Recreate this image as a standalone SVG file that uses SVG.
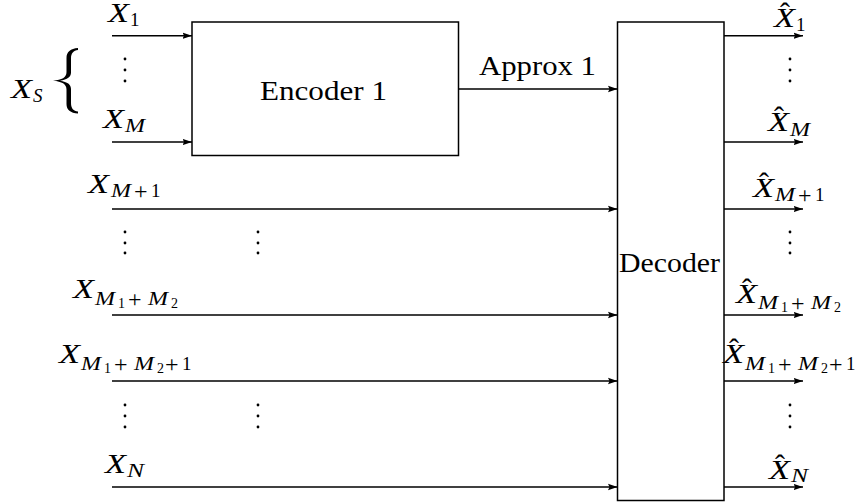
<svg xmlns="http://www.w3.org/2000/svg" width="856" height="503" viewBox="0 0 856 503">
  <style>
    .box { fill: #ffffff; stroke: #000000; stroke-width: 1.5; }
    .wire { fill: none; stroke: #000000; stroke-width: 1.5; marker-end: url(#arrow); }
    .rm { font-family: "Liberation Serif", "Times New Roman", serif; font-size: 27px; fill: #000000; }
    .mi { font-family: "Liberation Serif", "Times New Roman", serif; font-size: 27px; font-style: italic; fill: #000000; }
    .sub { font-size: 19px; }
    .subsub { font-size: 14px; font-style: normal; }
    .up { font-style: normal; }
    .op { font-size: 24px; font-style: normal; }
    .hat { font-size: 30px; font-style: normal; }
    .dot { fill: #000000; }
  </style>
  <defs>
    <marker id="arrow" markerUnits="userSpaceOnUse" markerWidth="10" markerHeight="8" viewBox="0 0 10 8" refX="9.5" refY="4" orient="auto">
      <path d="M0,0.8 L9.5,4 L0,7.2 L1.5,4 z" fill="#000000"/>
    </marker>
  </defs>

  <!-- blocks -->
  <g id="encoder1">
    <rect class="box" x="192" y="22" width="266.5" height="133.5"/>
    <text class="rm" x="260" y="100" textLength="127" lengthAdjust="spacingAndGlyphs">Encoder 1</text>
  </g>
  <g id="decoder">
    <rect class="box" x="617.5" y="22" width="106.5" height="478.5"/>
    <text class="rm" x="619" y="272" textLength="101" lengthAdjust="spacingAndGlyphs">Decoder</text>
  </g>

  <!-- signal lines -->
  <g id="connectors">
    <line class="wire" x1="112" y1="35.7" x2="192" y2="35.7"/>
    <line class="wire" x1="112" y1="142" x2="192" y2="142"/>
    <line class="wire" x1="458.5" y1="89" x2="617.5" y2="89"/>
    <line class="wire" x1="112" y1="209" x2="617.5" y2="209"/>
    <line class="wire" x1="112" y1="315" x2="617.5" y2="315"/>
    <line class="wire" x1="112" y1="381" x2="617.5" y2="381"/>
    <line class="wire" x1="112" y1="487" x2="617.5" y2="487"/>
    <line class="wire" x1="724" y1="35.7" x2="803" y2="35.7"/>
    <line class="wire" x1="724" y1="142" x2="803" y2="142"/>
    <line class="wire" x1="724" y1="209" x2="803" y2="209"/>
    <line class="wire" x1="724" y1="315" x2="803" y2="315"/>
    <line class="wire" x1="724" y1="381" x2="803" y2="381"/>
    <line class="wire" x1="724" y1="487" x2="803" y2="487"/>
  </g>

  <!-- link label -->
  <g id="approx-label">
    <text class="rm" x="479" y="75" textLength="117" lengthAdjust="spacingAndGlyphs">Approx 1</text>
  </g>

  <!-- source group brace -->
  <g id="source-group">
    <path d="M78,48 C70.5,48.5 66.5,52 66.5,58 L66.5,72 C66.5,77.5 62,80 53,80.7 C62,81.4 66.5,84 66.5,89.5 L66.5,104 C66.5,110 70.5,113 78,113.5 L78,111.5 C73.5,111 71,108.5 71,103 L71,89 C71,84.5 67.5,81.8 60,80.7 C67.5,79.6 71,77 71,72.5 L71,58.5 C71,53 73.5,50.5 78,50 z" fill="#000000"/>
    <text class="mi" x="11" y="98"><tspan x="11" y="98" textLength="21" lengthAdjust="spacingAndGlyphs">X</tspan><tspan class="sub" x="33" y="102">S</tspan></text>
  </g>

  <!-- input labels -->
  <g id="inputs">
    <text class="mi" x="108" y="22"><tspan x="108" y="22" textLength="21" lengthAdjust="spacingAndGlyphs">X</tspan><tspan class="sub up" x="130" y="26">1</tspan></text>
    <text class="mi" x="103" y="128"><tspan x="103" y="128" textLength="21" lengthAdjust="spacingAndGlyphs">X</tspan><tspan class="sub" x="125" y="132" textLength="20" lengthAdjust="spacingAndGlyphs">M</tspan></text>
    <text class="mi" x="88" y="193"><tspan x="88" y="193" textLength="21" lengthAdjust="spacingAndGlyphs">X</tspan><tspan class="sub" x="111" y="197" textLength="20" lengthAdjust="spacingAndGlyphs">M</tspan><tspan class="op" x="134" y="198.5">+</tspan><tspan class="sub up" x="151" y="197">1</tspan></text>
    <text class="mi" x="73" y="298"><tspan x="73" y="298" textLength="21" lengthAdjust="spacingAndGlyphs">X</tspan><tspan class="sub" x="95" y="305" textLength="20" lengthAdjust="spacingAndGlyphs">M</tspan><tspan class="subsub" x="118" y="308">1</tspan><tspan class="op" x="128" y="306.5">+</tspan><tspan class="sub" x="148" y="305" textLength="20" lengthAdjust="spacingAndGlyphs">M</tspan><tspan class="subsub" x="171" y="308">2</tspan></text>
    <text class="mi" x="59" y="363"><tspan x="59" y="363" textLength="21" lengthAdjust="spacingAndGlyphs">X</tspan><tspan class="sub" x="81" y="370" textLength="20" lengthAdjust="spacingAndGlyphs">M</tspan><tspan class="subsub" x="104" y="373">1</tspan><tspan class="op" x="114" y="371.5">+</tspan><tspan class="sub" x="134" y="370" textLength="20" lengthAdjust="spacingAndGlyphs">M</tspan><tspan class="subsub" x="157" y="373">2</tspan><tspan class="op" x="165" y="371.5">+</tspan><tspan class="sub up" x="182" y="370">1</tspan></text>
    <text class="mi" x="105" y="473"><tspan x="105" y="473" textLength="21" lengthAdjust="spacingAndGlyphs">X</tspan><tspan class="sub" x="127" y="477" textLength="17" lengthAdjust="spacingAndGlyphs">N</tspan></text>
  </g>

  <!-- output labels -->
  <g id="outputs">
    <text class="mi" x="774" y="27"><tspan class="hat" x="780" y="23">ˆ</tspan><tspan x="774" y="27" textLength="21" lengthAdjust="spacingAndGlyphs">X</tspan><tspan class="sub up" x="796" y="31">1</tspan></text>
    <text class="mi" x="768" y="131"><tspan class="hat" x="774" y="127">ˆ</tspan><tspan x="768" y="131" textLength="21" lengthAdjust="spacingAndGlyphs">X</tspan><tspan class="sub" x="790" y="136" textLength="20" lengthAdjust="spacingAndGlyphs">M</tspan></text>
    <text class="mi" x="753" y="197"><tspan class="hat" x="759" y="193">ˆ</tspan><tspan x="753" y="197" textLength="21" lengthAdjust="spacingAndGlyphs">X</tspan><tspan class="sub" x="775" y="201" textLength="20" lengthAdjust="spacingAndGlyphs">M</tspan><tspan class="op" x="798" y="202.5">+</tspan><tspan class="sub up" x="815" y="201">1</tspan></text>
    <text class="mi" x="736" y="303"><tspan class="hat" x="742" y="299">ˆ</tspan><tspan x="736" y="303" textLength="21" lengthAdjust="spacingAndGlyphs">X</tspan><tspan class="sub" x="758" y="309" textLength="20" lengthAdjust="spacingAndGlyphs">M</tspan><tspan class="subsub" x="781" y="312">1</tspan><tspan class="op" x="791" y="310.5">+</tspan><tspan class="sub" x="811" y="309" textLength="20" lengthAdjust="spacingAndGlyphs">M</tspan><tspan class="subsub" x="834" y="312">2</tspan></text>
    <text class="mi" x="723" y="363"><tspan class="hat" x="729" y="359">ˆ</tspan><tspan x="723" y="363" textLength="21" lengthAdjust="spacingAndGlyphs">X</tspan><tspan class="sub" x="745" y="370" textLength="20" lengthAdjust="spacingAndGlyphs">M</tspan><tspan class="subsub" x="768" y="373">1</tspan><tspan class="op" x="778" y="371.5">+</tspan><tspan class="sub" x="798" y="370" textLength="20" lengthAdjust="spacingAndGlyphs">M</tspan><tspan class="subsub" x="821" y="373">2</tspan><tspan class="op" x="829" y="371.5">+</tspan><tspan class="sub up" x="846" y="370">1</tspan></text>
    <text class="mi" x="769" y="479"><tspan class="hat" x="775" y="475">ˆ</tspan><tspan x="769" y="479" textLength="21" lengthAdjust="spacingAndGlyphs">X</tspan><tspan class="sub" x="791" y="482" textLength="17" lengthAdjust="spacingAndGlyphs">N</tspan></text>
  </g>

  <!-- vertical ellipses -->
  <g id="ellipses">
    <circle class="dot" cx="125" cy="59" r="1.4"/>
    <circle class="dot" cx="125" cy="70" r="1.4"/>
    <circle class="dot" cx="125" cy="81" r="1.4"/>
    <circle class="dot" cx="125" cy="232" r="1.4"/>
    <circle class="dot" cx="125" cy="243" r="1.4"/>
    <circle class="dot" cx="125" cy="253" r="1.4"/>
    <circle class="dot" cx="258" cy="232" r="1.4"/>
    <circle class="dot" cx="258" cy="243" r="1.4"/>
    <circle class="dot" cx="258" cy="253" r="1.4"/>
    <circle class="dot" cx="125" cy="405" r="1.4"/>
    <circle class="dot" cx="125" cy="416" r="1.4"/>
    <circle class="dot" cx="125" cy="427" r="1.4"/>
    <circle class="dot" cx="258" cy="405" r="1.4"/>
    <circle class="dot" cx="258" cy="416" r="1.4"/>
    <circle class="dot" cx="258" cy="427" r="1.4"/>
    <circle class="dot" cx="790" cy="59" r="1.4"/>
    <circle class="dot" cx="790" cy="70" r="1.4"/>
    <circle class="dot" cx="790" cy="81" r="1.4"/>
    <circle class="dot" cx="790" cy="232" r="1.4"/>
    <circle class="dot" cx="790" cy="243" r="1.4"/>
    <circle class="dot" cx="790" cy="253" r="1.4"/>
    <circle class="dot" cx="790" cy="405" r="1.4"/>
    <circle class="dot" cx="790" cy="416" r="1.4"/>
    <circle class="dot" cx="790" cy="427" r="1.4"/>
  </g>
</svg>
